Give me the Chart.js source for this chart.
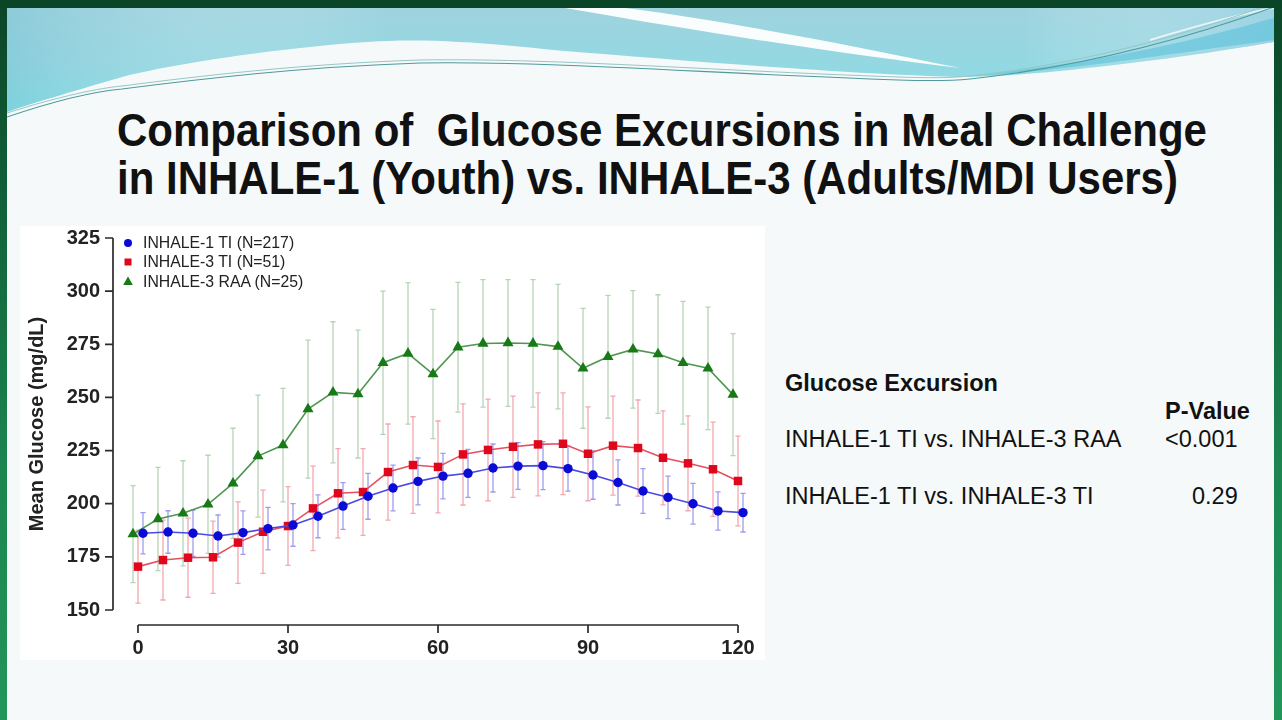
<!DOCTYPE html>
<html><head><meta charset="utf-8">
<script src="https://cdn.jsdelivr.net/npm/chart.js@4.4.1/dist/chart.umd.min.js"></script>
<style>
html,body{margin:0;padding:0;width:1282px;height:720px;overflow:hidden;}
body{position:relative;background:linear-gradient(to bottom,#0b4527 0%,#11633a 30%,#1c8550 65%,#23955b 100%);font-family:"Liberation Sans",Arial,sans-serif;}
#topbar{position:absolute;left:0;top:0;width:1282px;height:8px;background:#0b4527;}
#slide{position:absolute;left:7px;top:8px;width:1267px;height:712px;background:#f5f9f9;}
#deco{position:absolute;left:0;top:0;}
#plotbg{position:absolute;left:20px;top:226px;width:745px;height:434px;background:#ffffff;}
.t{position:absolute;white-space:pre;line-height:1;color:#111;}
.title{left:117px;font-size:42px;font-weight:bold;transform-origin:0 36px;transform:scaleY(1.1);}
.side{font-size:23.5px;color:#111;}
.b{font-weight:bold;}
#chart{position:absolute;left:0;top:0;}
#legend{position:absolute;left:120px;top:233px;font-size:15.8px;color:#222;}
.lrow{position:relative;height:19.4px;line-height:19.4px;white-space:pre;}
.lrow svg{position:absolute;left:3px;top:4.7px;}
.lrow span{position:absolute;left:23px;top:0;}
</style></head>
<body>
<div id="topbar"></div>
<div id="slide"></div>
<svg id="deco" width="1282" height="160" viewBox="0 0 1282 160">
  <defs>
    <clipPath id="cl"><rect x="7" y="8" width="1267" height="152"/></clipPath>
    <linearGradient id="cy" x1="0" y1="0" x2="0" y2="1">
      <stop offset="0" stop-color="#9fd3de"/>
      <stop offset="0.55" stop-color="#93d8e2"/>
      <stop offset="1" stop-color="#7fe2e8"/>
    </linearGradient>
    <linearGradient id="cy2" x1="0" y1="0" x2="1" y2="0">
      <stop offset="0" stop-color="#7cc3d3" stop-opacity="0.5"/>
      <stop offset="0.3" stop-color="#ffffff" stop-opacity="0"/>
      <stop offset="0.8" stop-color="#ffffff" stop-opacity="0"/>
      <stop offset="1" stop-color="#9ad3e8" stop-opacity="0.5"/>
    </linearGradient>
  </defs>
  <g clip-path="url(#cl)">
    <path id="cyanArea" d="M7,8 H1274 V42 C1230,50 1150,62 1070,70 C1010,76 980,77 955,77 C850,74 700,62 553,50 C480,42 420,38 367,42 C300,46 180,62 122,77 C70,92 30,104 7,112 Z" fill="url(#cy)"/>
    <path d="M7,8 H1274 V42 C1230,50 1150,62 1070,70 C1010,76 980,77 955,77 C850,74 700,62 553,50 C480,42 420,38 367,42 C300,46 180,62 122,77 C70,92 30,104 7,112 Z" fill="url(#cy2)"/>
    <path d="M955,77 C1080,70 1180,52 1274,40 V18 C1180,45 1080,66 955,77 Z" fill="#55bfd8" fill-opacity="0.55"/>
    <path d="M565,8 L625,8 C720,20 850,45 960,68 C850,55 720,35 565,8 Z" fill="#fafdfd"/>
    <path d="M1150,40 C1200,25 1240,14 1274,8" fill="none" stroke="#ffffff" stroke-width="2" stroke-opacity="0.7"/>
    <path d="M7,117 C60,99 100,91 122,89 C200,79 300,67 420,63 C550,61 700,73 898,80 C930,81 950,81 970,79 C1080,67 1180,41 1274,7" fill="none" stroke="#4f9a9c" stroke-width="1.1"/>
    <path d="M7,113 C60,96 100,88 122,86 C200,76 300,64 420,60 C550,58 700,70 898,77 C930,78 950,78 970,76 C1080,64 1180,37 1274,3" fill="none" stroke="#98c6c6" stroke-width="1"/>
  </g>
</svg>
<div id="plotbg"></div>
<div class="t title" style="top:111px;">Comparison of  Glucose Excursions in Meal Challenge</div>
<div class="t title" style="top:159px;">in INHALE-1 (Youth) vs. INHALE-3 (Adults/MDI Users)</div>
<div class="t side b" style="left:785px;top:372px;">Glucose Excursion</div>
<div class="t side b" style="left:1165px;top:400px;">P-Value</div>
<div class="t side" style="left:785px;top:428px;">INHALE-1 TI vs. INHALE-3 RAA</div>
<div class="t side" style="left:1165px;top:428px;">&lt;0.001</div>
<div class="t side" style="left:785px;top:485px;">INHALE-1 TI vs. INHALE-3 TI</div>
<div class="t side" style="left:1192px;top:485px;">0.29</div>
<canvas id="chart" width="1282" height="720"></canvas>
<div id="legend"></div>
<script>
// ---- data ----
const times = [0,5,10,15,20,25,30,35,40,45,50,55,60,65,70,75,80,85,90,95,100,105,110,115,120];
const xTicks = [0,30,60,90,120];
const yTicks = [150,175,200,225,250,275,300,325];
const seriesLabels = ['INHALE-1 TI (N=217)','INHALE-3 TI (N=51)','INHALE-3 RAA (N=25)'];
const inhale1TI = [186.1,186.7,186.1,184.8,186.4,188.3,190.0,194.1,198.9,203.5,207.4,210.5,213.0,214.3,216.8,217.7,217.9,216.5,213.5,210.0,206.0,203.0,200.0,196.6,195.8];
const inhale1TIErr = [9.7,10.0,10.9,9.9,10.2,10.0,10.0,10.1,11.0,10.8,10.8,11.0,10.7,11.3,11.3,11.0,11.3,10.6,11.4,10.6,10.5,10.0,9.6,9.0,9.1];
const inhale3TI = [170.4,173.5,174.6,174.8,181.7,186.8,189.5,197.8,204.9,205.5,214.9,218.2,217.3,223.2,225.3,226.8,227.9,228.2,223.5,227.3,226.2,221.6,219.0,216.2,210.7];
const inhale3TIErr = [17.2,18.8,18.6,17.0,19.2,19.6,18.5,19.9,21.0,20.4,22.6,22.7,21.6,23.8,23.9,23.8,24.2,23.9,22.1,23.3,22.6,22.1,22.3,22.2,21.1];
const inhale3RAA = [185.7,192.8,195.5,199.7,209.6,222.4,227.6,244.5,252.4,251.6,266.3,270.7,261.0,273.6,275.4,275.6,275.4,273.9,263.7,269.1,272.6,270.4,266.3,263.7,251.3];
const inhale3RAAErr = [22.8,24.3,24.7,23.1,25.9,28.7,26.7,32.5,33.2,30.1,33.7,33.3,30.4,30.5,30.0,29.8,30.0,29.3,28.2,28.9,27.6,27.9,28.9,28.8,28.7];

// ---- styles ----
const FONT = '"Liberation Sans", Arial, sans-serif';
const styles = [
  {point:'#0b0bd6', line:'#4a4ae2', err:'#9d9def', shape:'circle', r:4.7, dodge:1},
  {point:'#e0061c', line:'#e4505e', err:'#f2a8b0', shape:'rect', r:6.0, dodge:0},
  {point:'#177a17', line:'#4f964f', err:'#b7d3b7', shape:'triangle', r:6.4, dodge:-1}
];
const values = [inhale1TI, inhale3TI, inhale3RAA];
const errors = [inhale1TIErr, inhale3TIErr, inhale3RAAErr];

const datasets = values.map((vals,i)=>({
  label: seriesLabels[i],
  data: times.map((t,j)=>({x:t+styles[i].dodge, y:vals[j]})),
  errors: errors[i],
  errColor: styles[i].err,
  borderColor: styles[i].line,
  borderWidth: 1.6,
  backgroundColor: styles[i].point,
  pointBackgroundColor: styles[i].point,
  pointBorderColor: styles[i].point,
  pointBorderWidth: 0,
  pointStyle: styles[i].shape,
  pointRadius: styles[i].r,
  tension: 0,
  fill: false
}));

const errorBars = {
  id:'errorBars',
  beforeDatasetsDraw(chart){
    const {ctx} = chart; const x = chart.scales.x, y = chart.scales.y;
    ctx.save();
    ctx.lineWidth = 1.3;
    for (let i = chart.data.datasets.length-1; i >= 0; i--){
      const ds = chart.data.datasets[i];
      ctx.strokeStyle = ds.errColor;
      ds.data.forEach((p,j)=>{
        const px = x.getPixelForValue(p.x);
        const top = y.getPixelForValue(p.y + ds.errors[j]);
        const bot = y.getPixelForValue(p.y - ds.errors[j]);
        ctx.beginPath();
        ctx.moveTo(px, top); ctx.lineTo(px, bot);
        ctx.moveTo(px-2.6, top); ctx.lineTo(px+2.6, top);
        ctx.moveTo(px-2.6, bot); ctx.lineTo(px+2.6, bot);
        ctx.stroke();
      });
    }
    ctx.restore();
  }
};

const rAxes = {
  id:'rAxes',
  afterDraw(chart){
    const {ctx, chartArea} = chart; const x = chart.scales.x, y = chart.scales.y;
    const ax = chartArea.left - 10, ay = chartArea.bottom + 15;
    ctx.save();
    ctx.strokeStyle = '#2b2b2b'; ctx.lineWidth = 1.7;
    ctx.beginPath();
    const yv = y.ticks.map(t=>t.value);
    ctx.moveTo(ax, y.getPixelForValue(yv[0])); ctx.lineTo(ax, y.getPixelForValue(yv[yv.length-1]));
    yv.forEach(v=>{ const py = y.getPixelForValue(v); ctx.moveTo(ax, py); ctx.lineTo(ax-8, py); });
    const xv = x.ticks.map(t=>t.value);
    ctx.moveTo(x.getPixelForValue(xv[0]), ay); ctx.lineTo(x.getPixelForValue(xv[xv.length-1]), ay);
    xv.forEach(v=>{ const px = x.getPixelForValue(v); ctx.moveTo(px, ay); ctx.lineTo(px, ay+8); });
    ctx.stroke();
    ctx.restore();
  }
};

new Chart(document.getElementById('chart'), {
  type:'line',
  data:{datasets},
  plugins:[errorBars, rAxes],
  options:{
    responsive:false, animation:false, devicePixelRatio:1,
    layout:{padding:{left:0, top:238, right:529, bottom:60}},
    plugins:{legend:{display:false}, tooltip:{enabled:false}},
    scales:{
      x:{type:'linear', min:-3, max:123,
         grid:{display:false, drawTicks:false}, border:{display:false},
         afterBuildTicks(s){ s.ticks = xTicks.map(v=>({value:v})); },
         ticks:{includeBounds:false, padding:26, color:'#222', font:{family:FONT, size:20, weight:'bold'}},
         afterFit(s){ s.height = 50; }},
      y:{type:'linear', min:yTicks[0], max:yTicks[yTicks.length-1],
         grid:{display:false, drawTicks:false}, border:{display:false},
         afterBuildTicks(s){ s.ticks = yTicks.map(v=>({value:v})); },
         ticks:{padding:23, color:'#222', font:{family:FONT, size:20, weight:'bold'}},
         title:{display:true, text:'Mean Glucose (mg/dL)', color:'#222', font:{family:FONT, size:20, weight:'bold'}, padding:{top:25, bottom:0}},
         afterFit(s){ s.width = 123; }}
    }
  }
});

// legend (HTML, built from the series labels)
const shapes = {
  circle: c=>`<svg width="10" height="10"><circle cx="5" cy="5" r="4" fill="${c}"/></svg>`,
  rect: c=>`<svg width="10" height="10"><rect x="1.5" y="1.5" width="7" height="7" fill="${c}"/></svg>`,
  triangle: c=>`<svg width="10" height="10"><polygon points="5,0.5 9.8,9 0.2,9" fill="${c}"/></svg>`
};
document.getElementById('legend').innerHTML = seriesLabels.map((l,i)=>
  `<div class="lrow">${shapes[styles[i].shape](styles[i].point)}<span>${l}</span></div>`).join('');
</script>
</body></html>
